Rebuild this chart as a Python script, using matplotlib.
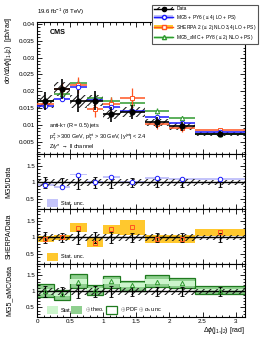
import numpy as np
import matplotlib
matplotlib.use('Agg')
import matplotlib.pyplot as plt
from matplotlib.patches import Rectangle, Patch
from matplotlib.lines import Line2D
from matplotlib.ticker import MultipleLocator

plt.rcParams['font.family'] = ['Liberation Sans', 'DejaVu Sans']
plt.rcParams['mathtext.fontset'] = 'custom'
plt.rcParams['mathtext.rm'] = 'Liberation Sans'
plt.rcParams['mathtext.it'] = 'Liberation Sans:italic'
plt.rcParams['mathtext.bf'] = 'Liberation Sans:bold'
plt.rcParams['hatch.linewidth'] = 0.8

# ---------------- data ----------------
bin_edges = [0.0, 0.25, 0.5, 0.75, 1.0, 1.25, 1.63, 2.0, 2.38, 3.1416]
data = [0.0170, 0.0207, 0.0170, 0.0172, 0.0131, 0.0138, 0.0107, 0.0095, 0.0072]
data_tot_rel = [0.16, 0.14, 0.19, 0.16, 0.17, 0.15, 0.15, 0.15, 0.13]
data_syst_rel = [0.11, 0.10, 0.11, 0.10, 0.11, 0.10, 0.10, 0.10, 0.09]

mg5 = [0.0157, 0.0176, 0.0211, 0.0173, 0.0153, 0.0141, 0.0122, 0.0105, 0.0079]
mg5_stat = [0.03, 0.03, 0.03, 0.03, 0.03, 0.03, 0.03, 0.03, 0.03]

sherpa = [0.0162, 0.0207, 0.0219, 0.0146, 0.0163, 0.0180, 0.0101, 0.0090, 0.0083]
sherpa_stat = [0.085, 0.085, 0.135, 0.125, 0.14, 0.22, 0.12, 0.12, 0.115]

amc = [0.0170, 0.0193, 0.0223, 0.0180, 0.0172, 0.0166, 0.0140, 0.0119, 0.0074]
amc_stat = [0.07, 0.07, 0.08, 0.07, 0.08, 0.07, 0.08, 0.07, 0.05]
amc_unc_dn = [0.17, 0.20, 0.19, 0.16, 0.19, 0.19, 0.17, 0.14, 0.10]
amc_unc_up = [0.22, 0.12, 0.22, 0.16, 0.18, 0.14, 0.22, 0.17, 0.14]

x_ticks = [0, 0.5, 1, 1.5, 2, 2.5, 3]

# ---------------- styling ----------------
C_MG5 = '#1a1aff'
C_MG5_F = '#c4c4fa'
C_SH = '#ff5522'
C_SH_F = '#ffc82e'
C_AMC = '#2f9a2f'
C_AMC_S = '#ccf5cc'
C_AMC_T = '#8fcf8f'
C_AMC_O = '#1f7a1f'
HATCH = '/////'
HCOL = '#222222'

W, H = 266, 344
fig = plt.figure(figsize=(W / 100, H / 100), dpi=100)

def fx(px):
    return px / W

def fy(py):
    return 1 - py / H

L, R = 37, 245
panels = [(22, 154), (154, 209), (209, 264), (264, 317)]
axes = []
for (t, b) in panels:
    ax = fig.add_axes([fx(L), fy(b), fx(R) - fx(L), fy(t) - fy(b)])
    axes.append(ax)

edges = np.array(bin_edges)
lo_e = edges[:-1]
hi_e = edges[1:]
widths = hi_e - lo_e
centers = 0.5 * (lo_e + hi_e)
d = np.array(data)
tot = np.array(data_tot_rel) * d
syst = np.array(data_syst_rel) * d

# ---------------- main panel ----------------
ax = axes[0]
ax.bar(lo_e, 2 * syst, widths, bottom=d - syst, align='edge', fill=False,
       hatch=HATCH, edgecolor=HCOL, linewidth=0, zorder=2)

def draw_mc(ax, vals, errs, color, marker, z):
    v = np.array(vals)
    ax.hlines(v, lo_e, hi_e, color=color, lw=1.1, zorder=z)
    ax.errorbar(centers, v, yerr=np.array(errs) * d, fmt=marker, color=color,
                mfc='white', mec=color, ms=3.2, mew=0.7, elinewidth=0.9,
                capsize=0, zorder=z + 0.5)

draw_mc(ax, amc, amc_stat, C_AMC, '^', 3)
draw_mc(ax, sherpa, sherpa_stat, C_SH, 's', 4)
draw_mc(ax, mg5, mg5_stat, C_MG5, 'o', 5)

ax.errorbar(centers, d, yerr=tot, xerr=widths / 2, fmt='o', color='black',
            ms=3.4, elinewidth=1.2, capsize=0, zorder=7)

ax.set_xlim(0, np.pi)
ax.set_ylim(0.0013, 0.0406)
ax.yaxis.set_minor_locator(MultipleLocator(0.001))
ax.set_yticks([0.005, 0.01, 0.015, 0.02, 0.025, 0.03, 0.035, 0.04])
ax.set_yticklabels(['0.005', '0.01', '0.015', '0.02', '0.025', '0.03', '0.035', '0.04'])

ax.text(0.06, 0.95, 'CMS', transform=ax.transAxes, fontsize=5.2,
        fontweight='bold', va='top', ha='left')
ax.text(0.06, 0.215, r'anti-k$_{\mathrm{T}}$ (R = 0.5) jets', transform=ax.transAxes,
        fontsize=4, va='center', ha='left')
ax.text(0.06, 0.125,
        r'p$_{\mathrm{T}}^{\mathrm{Z}}$ > 300 GeV, p$_{\mathrm{T}}^{\mathrm{jet}}$ > 30 GeV, |y$^{\mathrm{jet}}$| < 2.4',
        transform=ax.transAxes, fontsize=4, va='center', ha='left')
ax.text(0.06, 0.055, r'Z/$\gamma$* $\rightarrow$ ll channel', transform=ax.transAxes,
        fontsize=4, va='center', ha='left')

fig.text(fx(L), fy(17), r'19.6 fb$^{-1}$ (8 TeV)', fontsize=4.4, ha='left', va='bottom')
fig.text(fx(9), fy(17), r'd$\sigma$/d$\Delta\phi$(j$_1$,j$_2$)  [pb/rad]',
         rotation=90, fontsize=5, ha='center', va='top')

# legend
h_data = (Patch(facecolor='none', edgecolor=HCOL, hatch=HATCH, linewidth=0),
          Line2D([], [], color='black', marker='o', ms=3, lw=1.0))
h_mg5 = (Patch(facecolor=C_MG5_F, edgecolor='none'),
         Line2D([], [], color=C_MG5, marker='o', mfc='white', ms=3, lw=1.0))
h_sh = (Patch(facecolor=C_SH_F, edgecolor='none'),
        Line2D([], [], color=C_SH, marker='s', mfc='white', ms=3, lw=1.0))
h_amc = (Patch(facecolor=C_AMC_S, edgecolor='none'),
         Line2D([], [], color=C_AMC, marker='^', mfc='white', ms=3, lw=1.0))
leg = fig.legend([h_data, h_mg5, h_sh, h_amc],
                 ['Data', r'MG5 + PY6 ($\leq$ 4j LO + PS)',
                  r'SHERPA 2 ($\leq$ 2j NLO 3,4j LO + PS)',
                  r'MG5_aMC + PY8 ($\leq$ 2j NLO + PS)'],
                 loc='upper right', bbox_to_anchor=(fx(258), fy(5)),
                 fontsize=3.5, frameon=True, fancybox=False, edgecolor='#555555',
                 framealpha=1, borderpad=0.3, labelspacing=0.25, handlelength=4.0,
                 handletextpad=0.6, borderaxespad=0)
leg.get_frame().set_linewidth(0.8)

# ---------------- ratio panels ----------------
def ratio_base(ax):
    ax.bar(lo_e, 2 * np.array(data_syst_rel), widths, bottom=1 - np.array(data_syst_rel),
           align='edge', fill=False, hatch=HATCH, edgecolor=HCOL, linewidth=0,
           zorder=3)
    ax.axhline(1, color='black', lw=1.0, zorder=4)
    ax.errorbar(centers, np.ones(len(centers)), yerr=np.array(data_tot_rel), fmt='none',
                ecolor='black', elinewidth=0.9, capsize=1.2, capthick=0.6, zorder=5)
    ax.set_xlim(0, np.pi)
    ax.set_ylim(0.2, 1.86)
    ax.set_yticks([0.5, 1, 1.5])
    ax.set_yticklabels(['0.5', '1', '1.5'])
    ax.yaxis.set_minor_locator(MultipleLocator(0.1))

# MG5
ax = axes[1]
r_mg5 = np.array(mg5) / d
ax.bar(lo_e, 2 * np.array(mg5_stat), widths, bottom=r_mg5 - np.array(mg5_stat),
       align='edge', color=C_MG5_F, linewidth=0, zorder=2)
ratio_base(ax)
ax.plot(centers, r_mg5, 'o', color=C_MG5, mfc='white', mec=C_MG5, ms=3.2, mew=0.7, zorder=6)
fig.text(fx(9), (fy(154) + fy(209)) / 2, 'MG5/Data', rotation=90, fontsize=5,
         ha='center', va='center')
fig.patches.append(Rectangle((fx(47), fy(207)), fx(11), fy(199) - fy(207),
                             transform=fig.transFigure, facecolor=C_MG5_F, edgecolor='none'))
fig.text(fx(61), fy(203), 'Stat. unc.', fontsize=4, ha='left', va='center')

# SHERPA
ax = axes[2]
r_sh = np.array(sherpa) / d
ax.bar(lo_e, 2 * np.array(sherpa_stat), widths, bottom=r_sh - np.array(sherpa_stat),
       align='edge', color=C_SH_F, linewidth=0, zorder=2)
ratio_base(ax)
ax.plot(centers, r_sh, 's', color=C_SH, mfc='none', mec=C_SH, ms=3.2, mew=0.7, zorder=6)
fig.text(fx(9), (fy(209) + fy(264)) / 2, 'SHERPA/Data', rotation=90, fontsize=5,
         ha='center', va='center')
fig.patches.append(Rectangle((fx(47), fy(261)), fx(11), fy(253) - fy(261),
                             transform=fig.transFigure, facecolor=C_SH_F, edgecolor='none'))
fig.text(fx(61), fy(257), 'Stat. unc.', fontsize=4, ha='left', va='center')

# MG5_aMC
ax = axes[3]
r_amc = np.array(amc) / d
dn = np.array(amc_unc_dn)
up = np.array(amc_unc_up)
ax.bar(lo_e, dn + up, widths, bottom=r_amc - dn, align='edge', facecolor=C_AMC_T,
       edgecolor=C_AMC_O, linewidth=0.9, zorder=1)
st = np.array(amc_stat)
ax.bar(lo_e, 2 * st, widths, bottom=r_amc - st, align='edge', color=C_AMC_S,
       linewidth=0, zorder=2)
ratio_base(ax)
ax.plot(centers, r_amc, '^', color=C_AMC, mfc='none', mec=C_AMC, ms=3.2, mew=0.7, zorder=6)
fig.text(fx(9), (fy(264) + fy(317)) / 2, 'MG5_aMC/Data', rotation=90, fontsize=5,
         ha='center', va='center')
fig.patches.append(Rectangle((fx(47), fy(314)), fx(11), fy(306) - fy(314),
                             transform=fig.transFigure, facecolor=C_AMC_S, edgecolor='none'))
fig.text(fx(61), fy(310), 'Stat.', fontsize=4, ha='left', va='center')
fig.patches.append(Rectangle((fx(71), fy(314)), fx(11), fy(306) - fy(314),
                             transform=fig.transFigure, facecolor=C_AMC_T, edgecolor='none'))
fig.text(fx(85), fy(310), r'$\oplus$ theo.', fontsize=4, ha='left', va='center')
fig.patches.append(Rectangle((fx(106), fy(314)), fx(11), fy(306) - fy(314),
                             transform=fig.transFigure, facecolor='white',
                             edgecolor=C_AMC_O, linewidth=0.9))
fig.text(fx(120), fy(310), r'$\oplus$ PDF $\oplus$ $\alpha_{\mathrm{s}}$ unc.', fontsize=4,
         ha='left', va='center')

# ---------------- common axes styling ----------------
for i, ax in enumerate(axes):
    ax.xaxis.set_major_locator(MultipleLocator(0.5))
    ax.xaxis.set_minor_locator(MultipleLocator(0.1))
    ax.tick_params(which='both', direction='in', top=True, right=True, labelsize=4.5,
                   width=0.6, pad=1.5)
    ax.tick_params(which='major', length=3.5)
    ax.tick_params(which='minor', length=1.8)
    for sp in ax.spines.values():
        sp.set_linewidth(0.8)
    if i < 3:
        ax.tick_params(labelbottom=False)
    else:
        ax.set_xticks(x_ticks)
        ax.set_xticklabels(['0', '0.5', '1', '1.5', '2', '2.5', '3'])
        ax.xaxis.set_minor_locator(MultipleLocator(0.1))

fig.text(fx(245), fy(331), r'$\Delta\phi$(j$_1$,j$_2$) [rad]', fontsize=5,
         ha='right', va='center')

fig.savefig('out.png', dpi=100)
